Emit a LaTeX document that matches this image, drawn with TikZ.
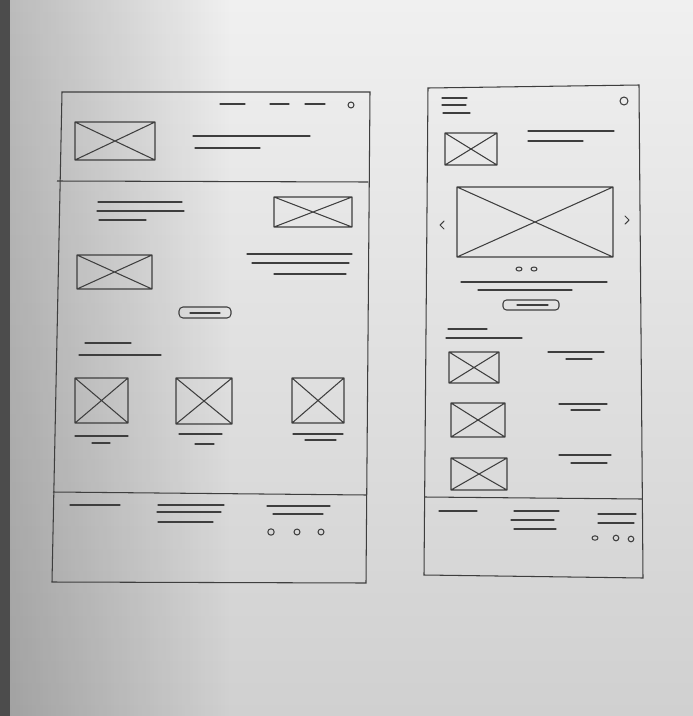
\documentclass[tikz,border=0pt]{standalone}
\usetikzlibrary{calc,fadings}
\definecolor{pencil}{HTML}{3E3E3E}
\definecolor{papertop}{HTML}{F0F0F0}
\definecolor{paperbot}{HTML}{D0D0D0}
\definecolor{edgedark}{HTML}{4C4C4C}
\tikzset{
  sk/.style={draw=pencil, line width=1.05pt, line cap=round, line join=round},
  frame/.style={draw=pencil, line width=1.05pt},
}
\newcommand{\wfimg}[4]{\draw[sk] (#1,#2) rectangle (#3,#4) (#1,#2) -- (#3,#4) (#1,#4) -- (#3,#2);}
\newcommand{\wfline}[3]{\draw[sk] (#2,#1) -- (#3,#1);}
\begin{document}
\begin{tikzpicture}[x=1pt,y=-1pt]
\useasboundingbox (0,0) rectangle (693,716);
% paper
\shade[top color=papertop, bottom color=paperbot] (0,0) rectangle (693,716);
\fill[black, opacity=0.22, path fading=east] (10,0) rectangle (230,716);
\fill[edgedark] (0,0) rectangle (10,716);

% ===== left (desktop) frame =====
\draw[frame] (62,92) -- (370,92) -- (366,583) -- (52,582) -- cycle;
\draw[frame] (57,181) -- (368,182);
\draw[frame] (53,492) -- (367,495);
% header
\wfline{104}{220}{245}
\wfline{104}{270}{289}
\wfline{104}{305}{325}
\draw[sk] (351,105) circle (3);
\wfimg{75}{122}{155}{160}
\wfline{136}{193}{310}
\wfline{148}{195}{260}
% section 1
\wfline{202}{98}{182}
\wfline{211}{97}{184}
\wfline{220}{99}{146}
\wfimg{274}{197}{352}{227}
\wfline{254}{247}{352}
\wfline{263}{252}{349}
\wfline{274}{274}{346}
\wfimg{77}{255}{152}{289}
% button
\draw[sk, rounded corners=4pt] (179,307) rectangle (231,318);
\wfline{313}{190}{220}
% section 2
\wfline{343}{85}{131}
\wfline{355}{79}{161}
\wfimg{75}{378}{128}{423}
\wfline{436}{75}{128}
\wfline{443}{92}{110}
\wfimg{176}{378}{232}{424}
\wfline{434}{179}{222}
\wfline{444}{195}{214}
\wfimg{292}{378}{344}{423}
\wfline{434}{293}{343}
\wfline{440}{305}{336}
% footer
\wfline{505}{70}{120}
\wfline{505}{158}{224}
\wfline{512}{157}{221}
\wfline{522}{158}{213}
\wfline{506}{267}{330}
\wfline{514}{273}{323}
\draw[sk] (271,532) circle (3.2);
\draw[sk] (297,532) circle (3);
\draw[sk] (321,532) circle (3);

% ===== right (mobile) frame =====
\draw[frame] (428,88) -- (639,85) -- (643,578) -- (424,575) -- cycle;
\draw[frame] (425,497) -- (642,499);
% header
\wfline{98}{442}{467}
\wfline{105}{442}{466}
\wfline{113}{443}{470}
\draw[sk] (624,101) circle (4);
\wfimg{445}{133}{497}{165}
\wfline{131}{528}{614}
\wfline{141}{528}{583}
% carousel
\wfimg{457}{187}{613}{257}
\draw[sk] (444,221) -- (440,225) -- (444,229);
\draw[sk] (625,216) -- (629,220) -- (625,224);
\draw[sk] (519,269) ellipse (3 and 2);
\draw[sk] (534,269) ellipse (3 and 2);
\wfline{282}{461}{607}
\wfline{290}{478}{572}
% button
\draw[sk, rounded corners=3.5pt] (503,300) rectangle (559,310);
\wfline{305}{517}{548}
% list
\wfline{329}{448}{487}
\wfline{338}{446}{522}
\wfimg{449}{352}{499}{383}
\wfline{352}{548}{604}
\wfline{359}{566}{592}
\wfimg{451}{403}{505}{437}
\wfline{404}{559}{607}
\wfline{410}{571}{600}
\wfimg{451}{458}{507}{490}
\wfline{455}{559}{611}
\wfline{463}{571}{607}
% footer
\wfline{511}{439}{477}
\wfline{511}{514}{559}
\wfline{520}{511}{554}
\wfline{529}{514}{556}
\wfline{514}{598}{636}
\wfline{523}{598}{634}
\draw[sk] (595,538) ellipse (3 and 2.2);
\draw[sk] (616,538) circle (2.8);
\draw[sk] (631,539) circle (2.8);
\end{tikzpicture}
\end{document}
